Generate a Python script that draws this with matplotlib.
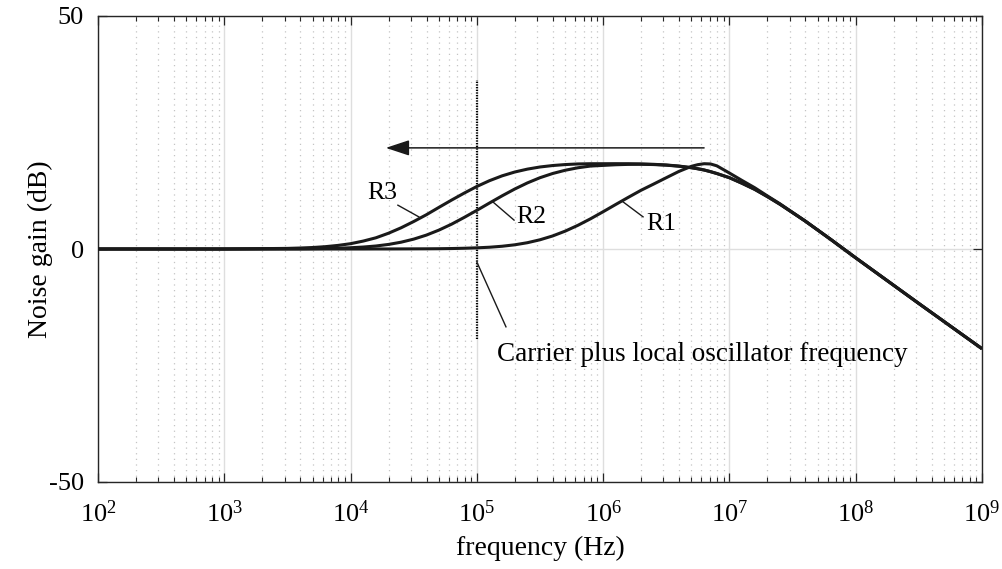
import math
import matplotlib
matplotlib.use("Agg")
import matplotlib.pyplot as plt
from matplotlib.ticker import LogLocator, FixedLocator, FuncFormatter, NullFormatter

plt.rcParams['font.family'] = ['Liberation Serif', 'DejaVu Serif']
plt.rcParams['mathtext.fontset'] = 'custom'
plt.rcParams['mathtext.rm'] = 'Liberation Serif'
plt.rcParams['mathtext.it'] = 'Liberation Serif:italic'
plt.rcParams['axes.unicode_minus'] = False

# log10 of frequency (Hz) at the points
log_f = [2.0, 3.0, 3.5, 3.6, 3.7, 3.8, 3.9, 4.0, 4.1, 4.2, 4.3, 4.4, 4.5,
         4.6, 4.7, 4.8, 4.9, 5.0, 5.1, 5.2, 5.3, 5.4, 5.5, 5.6, 5.7, 5.8,
         5.9, 6.0, 6.1, 6.2, 6.3, 6.4, 6.5, 6.6, 6.7, 6.75, 6.8, 6.85, 6.9,
         7.0, 7.1, 7.2, 7.3, 7.4, 7.5, 7.6, 7.7, 7.8, 7.9, 8.0, 8.5, 9.0]
freq = [10 ** v for v in log_f]

# noise gain (dB)
r1 = [0, 0, 0, 0, 0, 0, 0, 0, 0, 0.01, 0.01, 0.02, 0.03,
      0.04, 0.06, 0.10, 0.16, 0.25, 0.38, 0.59, 0.90, 1.35, 1.98, 2.80, 3.84, 5.08,
      6.48, 8.0, 9.56, 11.1, 12.6, 13.94, 15.3, 16.65, 17.75, 18.1, 18.3, 18.25, 17.85,
      16.3, 14.7, 13.15, 11.4, 9.7, 7.85, 6.0, 4.05, 2.1, 0.1, -1.9, -11.7, -21.4]
r2 = [0, 0, 0.03, 0.04, 0.07, 0.11, 0.17, 0.27, 0.42, 0.64, 0.98, 1.46, 2.12,
      2.98, 4.06, 5.33, 6.78, 8.30, 9.87, 11.41, 12.87, 14.18, 15.3, 16.2, 16.9, 17.43,
      17.8, 17.94, 18.08, 18.16, 18.18, 18.12, 17.99, 17.76, 17.43, 17.21, 16.95, 16.6, 16.2,
      15.3, 14.1, 12.8, 11.25, 9.6, 7.8, 6.0, 4.05, 2.1, 0.1, -1.9, -11.7, -21.4]
r3 = [0, 0, 0.13, 0.21, 0.32, 0.50, 0.77, 1.14, 1.70, 2.40, 3.38, 4.55, 5.90,
      7.35, 8.94, 10.5, 12.0, 13.42, 14.66, 15.7, 16.52, 17.14, 17.6, 17.91, 18.12, 18.25,
      18.3, 18.3, 18.31, 18.3, 18.26, 18.17, 18.03, 17.8, 17.45, 17.22, 16.95, 16.6, 16.2,
      15.3, 14.1, 12.8, 11.25, 9.6, 7.8, 6.0, 4.05, 2.1, 0.1, -1.9, -11.7, -21.4]

curve_labels = ['R1', 'R2', 'R3']
# label text position and leader line (start, end) in data coords
label_pos = [(2.87e6, 5.4), (2.68e5, 6.9), (1.77e4, 12.0)]
leader = [((1.44e6, 10.1), (2.07e6, 6.9)),
          ((1.34e5, 10.1), (1.97e5, 6.2)),
          ((2.37e4, 9.4), (3.47e4, 6.9))]

carrier_f = 1e5
carrier_span = (-19.3, 36.3)
carrier_text = 'Carrier plus local oscillator frequency'

fig = plt.figure(figsize=(10.03, 5.69), dpi=100)
ax = fig.add_axes([98/1003, 1 - 482/569, 884/1003, 466/569])

ax.set_xscale('log')
ax.set_xlim(1e2, 1e9)
ax.set_ylim(-50, 50)

# grid
ax.xaxis.set_major_locator(LogLocator(base=10, numticks=20))
ax.xaxis.set_minor_locator(LogLocator(base=10, subs=range(2, 10), numticks=20))
ax.xaxis.set_minor_formatter(NullFormatter())
ax.xaxis.set_major_formatter(FuncFormatter(lambda v, p: r'$10^{%d}$' % round(math.log10(v))))
ax.yaxis.set_major_locator(FixedLocator([-50, 0, 50]))
ax.grid(True, which='major', color='#dedede', lw=1.0, ls='-')
ax.grid(True, which='minor', axis='x', color='#c4c4c4', lw=0.9, ls=(0, (1, 3.5)))
ax.set_axisbelow(True)

for y in (r1, r2, r3):
    ax.plot(freq, y, color='#1a1a1a', lw=2.2, solid_capstyle='butt',
            solid_joinstyle='round', zorder=3)

# carrier line
ax.plot([carrier_f, carrier_f], carrier_span, color='black', lw=1.6,
        ls=(0, (0.6, 0.6)), zorder=2.5)

# arrow
ax.annotate('', xy=(1.9e4, 21.7), xytext=(6.3e6, 21.7),
            arrowprops=dict(arrowstyle='-|>,head_length=1.0,head_width=0.33',
                            mutation_scale=14.5, color='#1a1a1a', lw=1.1,
                            shrinkA=0, shrinkB=0), zorder=4)

for name, pos, (p0, p1) in zip(curve_labels, label_pos, leader):
    ax.plot([p0[0], p1[0]], [p0[1], p1[1]], color='#1a1a1a', lw=1.0, zorder=4)
    ax.text(pos[0], pos[1], name, fontsize=18.5, ha='center', va='center', zorder=5)

ax.plot([1e5, 1.7e5], [-2.8, -16.7], color='#1a1a1a', lw=1.0, zorder=4)
ax.text(1.44e5, -22.7, carrier_text, fontsize=19.5, ha='left', va='center')

ax.tick_params(which='both', direction='in', top=True, right=True,
               color='#262626', labelsize=19)
ax.tick_params(which='major', length=6.5, width=0.9)
ax.tick_params(which='minor', length=3.5, width=0.8)
ax.tick_params(axis='x', pad=13)
ax.tick_params(axis='y', pad=10)
for s in ax.spines.values():
    s.set_color('#262626')
    s.set_linewidth(1.0)

ax.set_xlabel('frequency (Hz)', fontsize=20, va='center')
ax.xaxis.set_label_coords(0.5, (482 - 548) / 466)
ax.set_ylabel('Noise gain (dB)', fontsize=20, va='center')
ax.yaxis.set_label_coords((40 - 98) / 884, 0.5)

fig.savefig('out.png', dpi=100)
